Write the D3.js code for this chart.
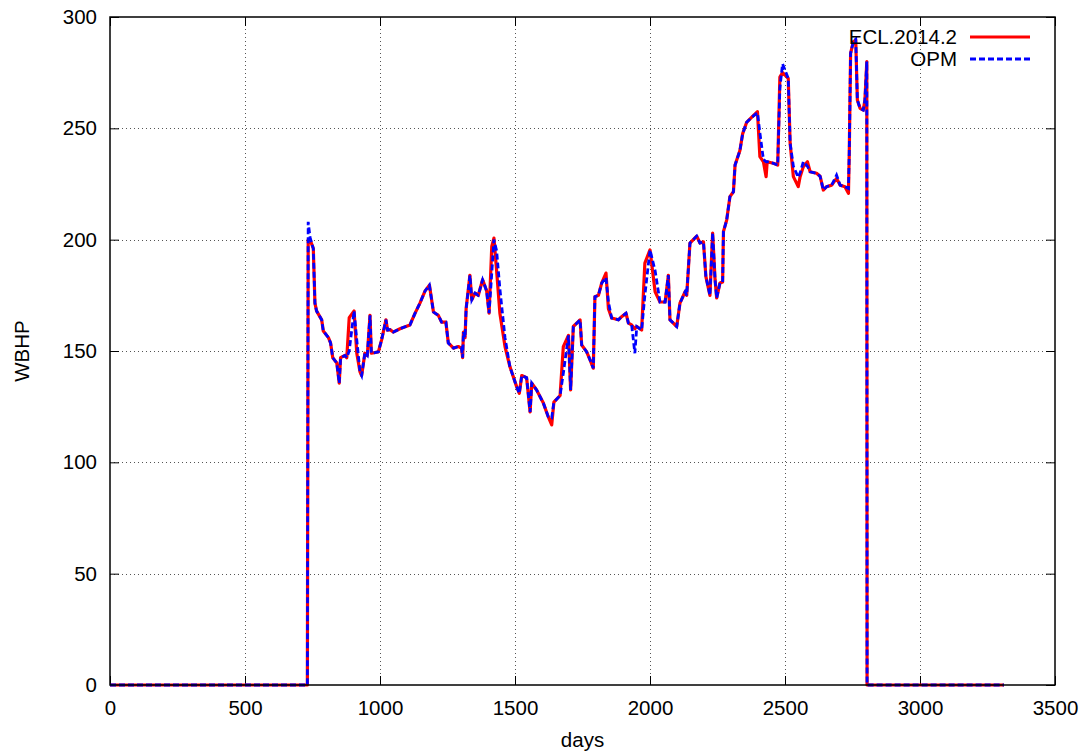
<!DOCTYPE html>
<html>
<head>
<meta charset="utf-8">
<script src="https://cdn.jsdelivr.net/npm/d3@7"></script>
<style>
  html, body { margin: 0; padding: 0; background: #fff; }
  svg { display: block; font-family: "Liberation Sans", Arial, sans-serif; }
</style>
</head>
<body>
<svg id="chart" width="1086" height="754"></svg>
<script>
// Well bottom-hole pressure over simulation time, two simulators
const days = [0, 731, 734, 741, 753, 759, 765, 784, 790, 809, 817, 825, 840, 849, 854, 870, 877, 886, 904, 914,
  926, 932, 944, 953, 963, 968, 994, 1006, 1022, 1028, 1037, 1049, 1074, 1111, 1130, 1148, 1167, 1183, 1198, 1216,
  1228, 1244, 1253, 1272, 1290, 1302, 1306, 1309, 1315, 1319, 1333, 1340, 1352, 1364, 1380, 1395, 1404, 1414, 1422, 1432,
  1444, 1463, 1481, 1506, 1516, 1525, 1543, 1556, 1562, 1580, 1605, 1623, 1636, 1644, 1667, 1679, 1698, 1706, 1716, 1741,
  1747, 1765, 1778, 1790, 1796, 1809, 1821, 1837, 1846, 1858, 1883, 1895, 1911, 1920, 1932, 1944, 1951, 1969, 1981, 2000,
  2019, 2037, 2056, 2068, 2074, 2099, 2111, 2130, 2136, 2148, 2173, 2185, 2198, 2207, 2222, 2232, 2241, 2247, 2259, 2269,
  2272, 2284, 2296, 2309, 2315, 2333, 2343, 2358, 2377, 2398, 2407, 2420, 2430, 2434, 2457, 2473, 2481, 2491, 2512, 2519,
  2531, 2549, 2556, 2568, 2583, 2593, 2617, 2630, 2642, 2654, 2673, 2691, 2704, 2722, 2735, 2738, 2743, 2753, 2762, 2768,
  2778, 2790, 2796, 2803, 2804, 3311];

const eclWbhp = [0, 0, 200, 200, 196, 171.5, 168, 164, 159, 156, 153.6, 147, 144.6, 135.6, 147, 148, 147, 165, 168, 149,
  140.6, 139, 149, 148, 166, 149, 149.6, 155, 164, 159.4, 159.6, 158.5, 160, 161.7, 167, 171.5, 177, 179.6, 167.5, 166,
  163, 163, 153.6, 151.3, 152, 151.3, 147, 158.5, 156, 169, 184, 173, 176, 175, 182, 177, 167, 197, 200.7, 186,
  167, 152, 143, 134, 131, 139, 138, 122.6, 135.6, 132.5, 126.6, 120.5, 116.8, 127, 130, 152, 157, 132.5, 161, 164,
  152.7, 149.7, 146, 142.3, 174.4, 175, 180.5, 185, 169, 164.8, 164, 165.4, 167, 162.5, 161.7, 160, 161, 159.4, 189.5, 195.4,
  176.6, 172, 172, 184, 164, 161, 171.5, 176.6, 175, 198.5, 201.6, 198.5, 199, 183.4, 175, 203, 182, 173.8, 180.5, 181,
  203.6, 208.8, 219.3, 221.5, 233.5, 240, 247.5, 252.7, 255, 257.5, 237.3, 235, 228.3, 235, 234.3, 233.5, 273, 275, 272.4, 243.3,
  228.3, 223.8, 228.3, 232.8, 235, 230.5, 229.8, 228.5, 222.3, 223.8, 224.5, 227.5, 224.5, 223.8, 220.8, 238.7, 283.7, 288.9, 289.7, 262.7,
  259, 258.2, 262.7, 280, 0, 0];

const opmWbhp = [0, 0, 208, 201, 196, 171.5, 168, 164, 159, 156, 153.6, 147, 144.6, 135.6, 147, 148, 147, 150, 168, 155,
  140.6, 139, 149, 148, 166, 149, 149.6, 155, 164, 159.4, 159.6, 158.5, 160, 161.7, 167, 171.5, 177, 179.6, 167.5, 166,
  163, 163, 153.6, 151.3, 152, 151.3, 147, 158.5, 156, 169, 184, 173, 176, 175, 182, 177, 167, 185, 200, 195,
  178, 156, 143, 134, 131, 139, 138, 122.6, 135.6, 132.5, 126.6, 120.5, 120, 127, 130, 140, 157, 132.5, 161, 164,
  152.7, 149.7, 146, 142.3, 174.4, 175, 180.5, 183, 172, 164.8, 164, 165.4, 167, 162.5, 161.7, 149, 161, 159.4, 175, 195.4,
  186, 172, 172, 184, 164, 161, 171.5, 176.6, 175, 198.5, 201.6, 198.5, 199, 183.4, 175, 203, 182, 173.8, 180.5, 181,
  203.6, 208.8, 219.3, 221.5, 233.5, 240, 247.5, 252.7, 255, 257, 248, 236, 235, 235, 234.3, 233.5, 268, 279, 272.4, 243.3,
  233, 228, 230, 235, 233, 230.5, 229.8, 228.5, 222.3, 223.8, 224.5, 229, 224.5, 223.8, 223, 238.7, 283.7, 288.9, 290, 262.7,
  259, 258.2, 262.7, 280, 0, 0];

const xTicks = [0, 500, 1000, 1500, 2000, 2500, 3000, 3500];
const yTicks = [0, 50, 100, 150, 200, 250, 300];
const seriesNames = ["ECL.2014.2", "OPM"];

const svg = d3.select("#chart");
const plotLeft = 110, plotRight = 1055, plotTop = 17, plotBottom = 685;
const fontSize = 20.5;

const x = d3.scaleLinear().domain([0, 3500]).range([plotLeft, plotRight]);
const y = d3.scaleLinear().domain([0, 300]).range([plotBottom, plotTop]);

// grid
const grid = svg.append("g").attr("stroke", "#555").attr("stroke-width", 1).attr("stroke-dasharray", "1,3");
grid.selectAll("line.gx").data(xTicks.slice(1, -1)).join("line")
  .attr("x1", d => Math.round(x(d)) + 0.5).attr("x2", d => Math.round(x(d)) + 0.5)
  .attr("y1", plotTop).attr("y2", plotBottom);
grid.selectAll("line.gy").data(yTicks.slice(1, -1)).join("line")
  .attr("x1", plotLeft).attr("x2", plotRight)
  .attr("y1", d => Math.round(y(d)) + 0.5).attr("y2", d => Math.round(y(d)) + 0.5);

// axes with inward ticks, mirrored on top and right
const tickLen = 9;
const axB = d3.axisBottom(x).tickValues(xTicks).tickSize(-tickLen).tickPadding(15).tickFormat(d3.format("d"));
const axT = d3.axisTop(x).tickValues(xTicks).tickSize(-tickLen).tickFormat("");
const axL = d3.axisLeft(y).tickValues(yTicks).tickSize(-tickLen).tickPadding(13).tickFormat(d3.format("d"));
const axR = d3.axisRight(y).tickValues(yTicks).tickSize(-tickLen).tickFormat("");

function styleAxis(g) {
  g.select(".domain").remove();
  g.selectAll(".tick line").attr("stroke", "#000").attr("stroke-width", 1);
  g.selectAll(".tick text").attr("fill", "#000").attr("font-size", fontSize)
    .attr("font-family", "'Liberation Sans', Arial, sans-serif");
}
svg.append("g").attr("transform", `translate(0,${plotBottom})`).call(axB).call(styleAxis);
svg.append("g").attr("transform", `translate(0,${plotTop})`).call(axT).call(styleAxis);
svg.append("g").attr("transform", `translate(${plotLeft},0)`).call(axL).call(styleAxis);
svg.append("g").attr("transform", `translate(${plotRight},0)`).call(axR).call(styleAxis);

// series
const line = d3.line().x((d, i) => x(days[i])).y(d => y(d));
svg.append("path").datum(eclWbhp).attr("d", line)
  .attr("fill", "none").attr("stroke", "#ff0000").attr("stroke-width", 3.2)
  .attr("stroke-linejoin", "round");
svg.append("path").datum(opmWbhp).attr("d", line)
  .attr("fill", "none").attr("stroke", "#0000ff").attr("stroke-width", 2.8)
  .attr("stroke-dasharray", "6,3");

// frame
svg.append("rect").attr("x", plotLeft).attr("y", plotTop)
  .attr("width", plotRight - plotLeft).attr("height", plotBottom - plotTop)
  .attr("fill", "none").attr("stroke", "#000").attr("stroke-width", 1.5);

// legend
const legend = svg.append("g");
const legY = [37, 59];
legend.selectAll("text").data(seriesNames).join("text")
  .attr("x", 957).attr("y", (d, i) => legY[i]).attr("dy", "0.35em")
  .attr("text-anchor", "end").attr("font-size", fontSize).attr("fill", "#000").text(d => d);
legend.append("line").attr("x1", 970).attr("x2", 1030).attr("y1", legY[0]).attr("y2", legY[0])
  .attr("stroke", "#ff0000").attr("stroke-width", 3.2);
legend.append("line").attr("x1", 970).attr("x2", 1030).attr("y1", legY[1]).attr("y2", legY[1])
  .attr("stroke", "#0000ff").attr("stroke-width", 2.8).attr("stroke-dasharray", "6,3");

// axis titles
svg.append("text").attr("x", (plotLeft + plotRight) / 2).attr("y", 740).attr("dy", "0.35em")
  .attr("text-anchor", "middle").attr("font-size", fontSize).text("days");
svg.append("text").attr("transform", `translate(22,${(plotTop + plotBottom) / 2}) rotate(-90)`).attr("dy", "0.35em")
  .attr("text-anchor", "middle").attr("font-size", fontSize).text("WBHP");
</script>
</body>
</html>
